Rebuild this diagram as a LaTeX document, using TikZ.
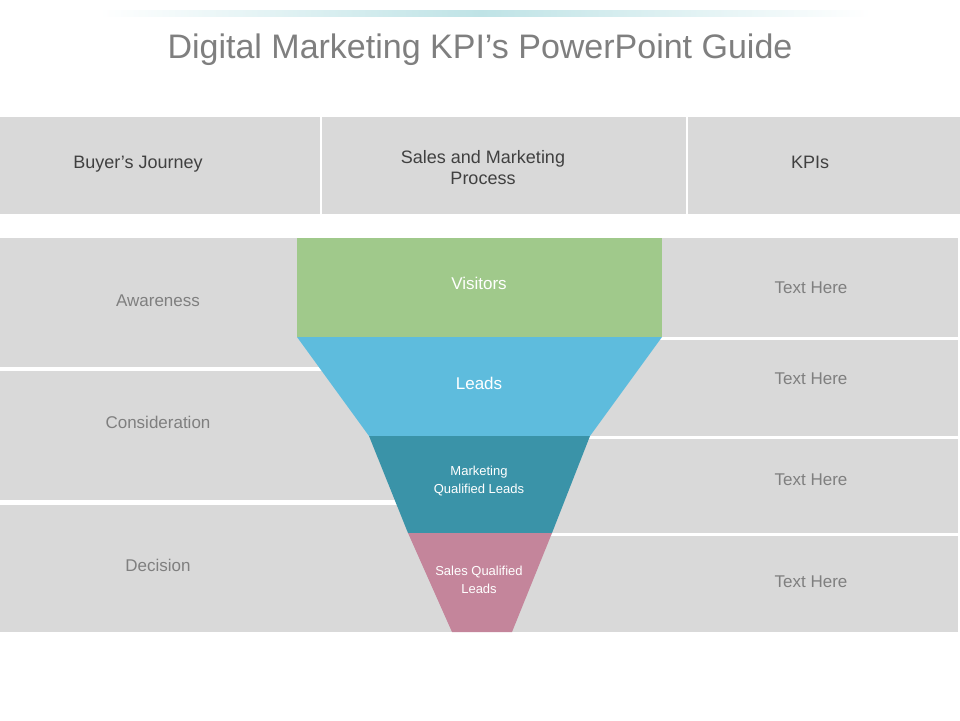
\documentclass[tikz,border=0pt]{standalone}
\usepackage{fontspec}
\setmainfont{Liberation Sans}
\begin{document}
\begin{tikzpicture}[x=1pt,y=-1pt,
  box/.style={fill=boxgray,draw=none},
  hdr/.style={text=darktxt,font=\fontsize{18}{21}\selectfont,align=center},
  lbl/.style={text=midtxt,font=\fontsize{17}{20}\selectfont,align=center},
  fl/.style={text=white,font=\fontsize{17}{20}\selectfont,align=center},
  fs/.style={text=white,font=\fontsize{13}{18}\selectfont,align=center}]
\definecolor{boxgray}{HTML}{D9D9D9}
\definecolor{darktxt}{HTML}{404040}
\definecolor{midtxt}{HTML}{7F7F7F}
\definecolor{cgreen}{HTML}{A0C98B}
\definecolor{cblue}{HTML}{5EBCDD}
\definecolor{cteal}{HTML}{3A93A8}
\definecolor{cpink}{HTML}{C4859B}
\definecolor{lineteal}{HTML}{BFE3E6}
\useasboundingbox (0,0) rectangle (960,720);
\fill[white] (0,0) rectangle (960,720);
\shade[left color=white,right color=lineteal] (100,10) rectangle (480,16);
\shade[left color=lineteal,right color=white] (480,10) rectangle (870,16);
\node[text=midtxt,font=\fontsize{34}{40}\selectfont] (title) at (480,50) {Digital Marketing KPI's PowerPoint Guide};
% header
\fill[box] (0,117) rectangle (320,214);
\fill[box] (322,117) rectangle (686,214);
\fill[box] (688,117) rectangle (960,214);
\node[hdr] (h1) at (138,164) {Buyer’s Journey};
\node[hdr] (h2) at (483,168) {Sales and Marketing\\Process};
\node[hdr] (h3) at (810,162) {KPIs};
% left boxes
\fill[box] (0,238) rectangle (480,367);
\fill[box] (0,371) rectangle (480,500);
\fill[box] (0,505) rectangle (480,632);
% right boxes
\fill[box] (480,238) rectangle (958,337);
\fill[box] (480,340) rectangle (958,436);
\fill[box] (480,439) rectangle (958,533);
\fill[box] (480,536) rectangle (958,632);
\node[lbl] (l1) at (158,301) {Awareness};
\node[lbl] (l2) at (158,422) {Consideration};
\node[lbl] (l3) at (158,565) {Decision};
\node[lbl] (r1) at (811,288) {Text Here};
\node[lbl] (r2) at (811,379) {Text Here};
\node[lbl] (r3) at (811,480) {Text Here};
\node[lbl] (r4) at (811,582) {Text Here};
% funnel
\fill[cgreen] (297,238) rectangle (662,337);
\fill[cblue] (297,337) -- (662,337) -- (590,436) -- (369,436) -- cycle;
\fill[cteal] (369,436) -- (590,436) -- (552,533) -- (408,533) -- cycle;
\fill[cpink] (408,533) -- (552,533) -- (512,632) -- (452,632) -- cycle;
\node[fl] (f1) at (479,283) {Visitors};
\node[fl] (f2) at (479,383) {Leads};
\node[fs] (f3) at (479,481) {Marketing\\Qualified Leads};
\node[fs] (f4) at (479,580) {Sales Qualified\\Leads};
\end{tikzpicture}
\end{document}
